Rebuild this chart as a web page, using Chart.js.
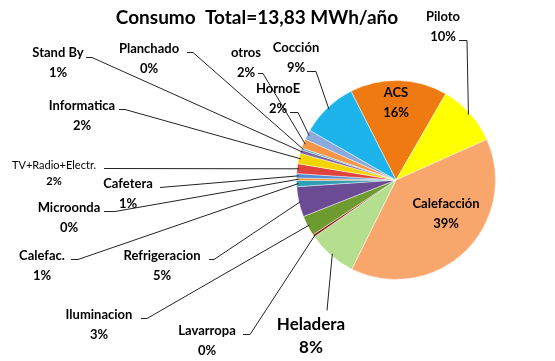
<!DOCTYPE html>
<html>
<head>
<meta charset="utf-8">
<script src="https://cdn.jsdelivr.net/npm/chart.js@4/dist/chart.umd.min.js"></script>
<style>
  html, body { margin: 0; padding: 0; background: #fff; }
  #wrap { width: 555px; height: 361px; }
</style>
</head>
<body>
<div id="wrap"><canvas id="myChart" width="555" height="361"></canvas></div>
<script>
// datos del grafico (% del consumo total)
const titulo = 'Consumo  Total=13,83 MWh/año';
const categorias = ['ACS', 'Piloto', 'Calefacción', 'Heladera', 'Lavarropa', 'Iluminacion',
  'Refrigeracion', 'Calefac.', 'Microonda', 'Cafetera', 'TV+Radio+Electr.', 'Informatica',
  'Stand By', 'Planchado', 'otros', 'HornoE', 'Cocción'];
const porcentajes = [15.8, 10.0, 39.0, 8.0, 0.4, 3.3, 4.9, 1.0, 0.4, 0.7, 1.6, 1.7, 0.6, 0.3, 1.5, 1.6, 9.2];
const colores = ['#F07A12', '#FFFF00', '#F9A66C', '#B5DE8E', '#8E1E1E', '#6E9B30', '#6A4B94',
  '#2F9FB6', '#E8892C', '#4F8FD8', '#E0443F', '#F4D500', '#8064A2', '#4BACC6', '#F79646',
  '#8EA9DB', '#1DB4EC'];

// posicion de cada etiqueta (solo layout)
const etiquetas = [
  { x: 396, y: 93, inside: true },
  { x: 443, y: 17, ax: 459, ay: 40, dx: 8 },
  { x: 446, y: 204, inside: true },
  { x: 311, y: 325, big: true, ax: 327, ay: 310, dx: 0 },
  { x: 207, y: 331, ax: 243, ay: 334, dx: 7 },
  { x: 99, y: 315, ax: 141, ay: 318, dx: 6 },
  { x: 162, y: 256, ax: 209, ay: 259, dx: 5 },
  { x: 42, y: 256, ax: 71, ay: 259, dx: 7 },
  { x: 69, y: 208, ax: 104, ay: 211, dx: 11 },
  { x: 128, y: 184, ax: 160, ay: 187, dx: 0 },
  { x: 54, y: 165, small: true, ax: 104, ay: 168, dx: 0 },
  { x: 82, y: 106, ax: 119, ay: 109, dx: 6 },
  { x: 58, y: 53, ax: 86, ay: 57, dx: 6 },
  { x: 149, y: 49, ax: 187, ay: 52, dx: 6 },
  { x: 246, y: 53, ax: 258, ay: 73, dx: 5 },
  { x: 278, y: 89, ax: 290, ay: 112, dx: 8 },
  { x: 296, y: 48, ax: 307, ay: 71, dx: 9 },
];

const total = porcentajes.reduce((a, b) => a + b, 0);

function sombra(hex, f) {
  const n = parseInt(hex.slice(1), 16);
  let r = (n >> 16) & 255, g = (n >> 8) & 255, b = n & 255;
  if (f > 0) { r += (255 - r) * f; g += (255 - g) * f; b += (255 - b) * f; }
  else { r *= 1 + f; g *= 1 + f; b *= 1 + f; }
  return 'rgb(' + Math.round(r) + ',' + Math.round(g) + ',' + Math.round(b) + ')';
}

const etiquetasPlugin = {
  id: 'etiquetas',
  afterDraw(chart) {
    const ctx = chart.ctx;
    const meta = chart.getDatasetMeta(0);
    ctx.save();
    // titulo
    ctx.fillStyle = '#000';
    ctx.textAlign = 'center';
    ctx.textBaseline = 'middle';
    ctx.font = 'bold 19px Lato, "Open Sans", sans-serif';
    ctx.fillText(titulo, 257, 18);

    categorias.forEach(function (cat, i) {
      const e = etiquetas[i];
      const pct = Math.round(porcentajes[i] / total * 100) + '%';
      let size = 13, weight = 'bold', gap = 20;
      if (e.big) { size = 17; gap = 23; }
      if (e.small) { size = 11; weight = 'normal'; gap = 16; }
      ctx.font = weight + ' ' + size + 'px Lato, "Open Sans", sans-serif';
      ctx.fillStyle = '#000';
      ctx.fillText(cat, e.x, e.y);
      ctx.font = 'bold ' + (e.small ? 11 : size) + 'px Lato, "Open Sans", sans-serif';
      ctx.fillText(pct, e.x, e.y + gap);
      if (e.inside) return;
      // linea guia
      const arc = meta.data[i];
      const mid = (arc.startAngle + arc.endAngle) / 2;
      const px = arc.x + Math.cos(mid) * (arc.outerRadius - 2);
      const py = arc.y + Math.sin(mid) * (arc.outerRadius - 2);
      ctx.strokeStyle = '#222';
      ctx.lineWidth = 1;
      ctx.beginPath();
      ctx.moveTo(e.ax, e.ay + 0.5);
      ctx.lineTo(e.ax + e.dx, e.ay + 0.5);
      ctx.lineTo(px, py);
      ctx.stroke();
    });
    ctx.restore();
  }
};

new Chart(document.getElementById('myChart'), {
  type: 'pie',
  data: {
    labels: categorias,
    datasets: [{
      data: porcentajes,
      backgroundColor: function (context) {
        const base = colores[context.dataIndex];
        const chart = context.chart;
        const arc = chart.getDatasetMeta(0).data[context.dataIndex];
        if (!chart.chartArea || !arc || !arc.outerRadius) return base;
        const g = chart.ctx.createRadialGradient(arc.x, arc.y, 0, arc.x, arc.y, arc.outerRadius);
        g.addColorStop(0, sombra(base, 0.08));
        g.addColorStop(0.8, base);
        g.addColorStop(0.93, base);
        g.addColorStop(1, sombra(base, -0.18));
        return g;
      },
      borderColor: 'rgba(255,255,255,0.45)',
      borderWidth: 1
    }]
  },
  options: {
    responsive: false,
    animation: false,
    rotation: -26.9,
    layout: { padding: { left: 296, right: 59, top: 80, bottom: 81 } },
    plugins: {
      legend: { display: false },
      tooltip: { enabled: false }
    }
  },
  plugins: [etiquetasPlugin]
});
</script>
</body>
</html>
